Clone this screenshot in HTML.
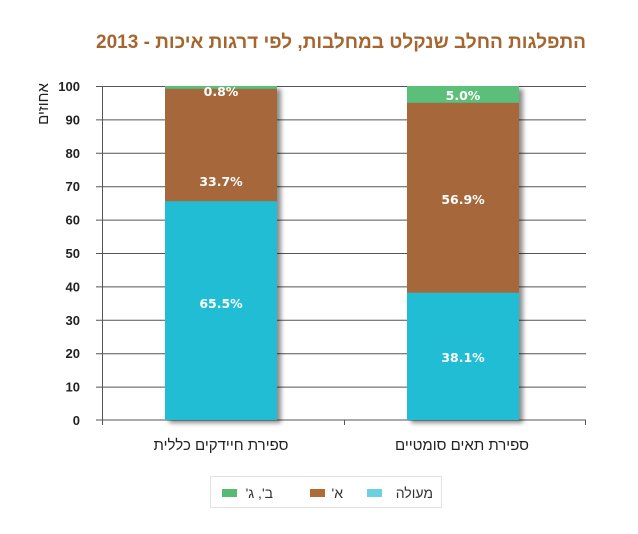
<!DOCTYPE html>
<html>
<head>
<meta charset="utf-8">
<style>
html,body{margin:0;padding:0;background:#fff;}
body{width:638px;height:534px;overflow:hidden;}
svg{display:block;}
</style>
</head>
<body>
<svg width="638" height="534" viewBox="0 0 638 534" xmlns="http://www.w3.org/2000/svg">
<defs>
<filter id="sh" x="-20%" y="-10%" width="140%" height="130%">
<feGaussianBlur in="SourceAlpha" stdDeviation="2.5"/>
<feOffset dx="4" dy="3" result="b"/>
<feComponentTransfer><feFuncA type="linear" slope="0.45"/></feComponentTransfer>
<feMerge><feMergeNode/><feMergeNode in="SourceGraphic"/></feMerge>
</filter>
</defs>
<text x="586" y="48" text-anchor="start" direction="rtl" textLength="490" lengthAdjust="spacingAndGlyphs" font-family="'Liberation Sans','DejaVu Sans',sans-serif" font-weight="bold" font-size="19" fill="#A5652F">התפלגות החלב שנקלט במחלבות, לפי דרגות איכות - 2013</text>

<text transform="translate(48,104) rotate(-90)" text-anchor="middle" font-family="'Liberation Sans','DejaVu Sans',sans-serif" font-size="15" fill="#222" direction="rtl">אחוזים</text>

<g stroke="#555" stroke-width="1">
<line x1="96" y1="86.5" x2="586" y2="86.5"/>
<line x1="96" y1="119.9" x2="586" y2="119.9"/>
<line x1="96" y1="153.3" x2="586" y2="153.3"/>
<line x1="96" y1="186.7" x2="586" y2="186.7"/>
<line x1="96" y1="220.1" x2="586" y2="220.1"/>
<line x1="96" y1="253.5" x2="586" y2="253.5"/>
<line x1="96" y1="286.9" x2="586" y2="286.9"/>
<line x1="96" y1="320.3" x2="586" y2="320.3"/>
<line x1="96" y1="353.7" x2="586" y2="353.7"/>
<line x1="96" y1="387.1" x2="586" y2="387.1"/>
<line x1="96" y1="420" x2="586" y2="420"/>
<line x1="102.5" y1="86" x2="102.5" y2="425"/>
<line x1="344.5" y1="420" x2="344.5" y2="425"/>
<line x1="585.5" y1="420" x2="585.5" y2="425"/>
</g>

<g font-family="'Liberation Sans','DejaVu Sans',sans-serif" font-weight="bold" font-size="13" fill="#222" text-anchor="end">
<text x="80" y="91">100</text>
<text x="80" y="124.4">90</text>
<text x="80" y="157.8">80</text>
<text x="80" y="191.2">70</text>
<text x="80" y="224.6">60</text>
<text x="80" y="258">50</text>
<text x="80" y="291.4">40</text>
<text x="80" y="324.8">30</text>
<text x="80" y="358.2">20</text>
<text x="80" y="391.6">10</text>
<text x="80" y="425">0</text>
</g>

<g filter="url(#sh)">
<rect x="165" y="86" width="112" height="334" fill="#21BDD4"/>
</g>
<rect x="165" y="201.2" width="112" height="218.8" fill="#21BDD4"/>
<rect x="165" y="88.7" width="112" height="112.5" fill="#A6683A"/>
<rect x="165" y="86" width="112" height="2.7" fill="#5CBF79"/>

<g filter="url(#sh)">
<rect x="407" y="86" width="112" height="334" fill="#21BDD4"/>
</g>
<rect x="407" y="292.7" width="112" height="127.3" fill="#21BDD4"/>
<rect x="407" y="102.7" width="112" height="190" fill="#A6683A"/>
<rect x="407" y="86" width="112" height="16.7" fill="#5CBF79"/>

<g font-family="'DejaVu Sans','Liberation Sans',sans-serif" font-weight="bold" font-size="12.5" fill="#fff" text-anchor="middle">
<text x="221" y="96">0.8%</text>
<text x="221" y="186">33.7%</text>
<text x="221" y="308">65.5%</text>
<text x="463" y="100">5.0%</text>
<text x="463" y="204">56.9%</text>
<text x="463" y="362">38.1%</text>
</g>

<g font-family="'Liberation Sans','DejaVu Sans',sans-serif" font-size="15" fill="#222" text-anchor="middle" direction="rtl">
<text x="221" y="450">ספירת חיידקים כללית</text>
<text x="462" y="450">ספירת תאים סומטיים</text>
</g>

<rect x="210.5" y="476.5" width="231" height="31" fill="#fff" stroke="#e2e2e2" stroke-width="1"/>
<rect x="367" y="489" width="15" height="8" fill="#6DCFDF"/>
<rect x="310" y="489" width="15" height="8" fill="#B06A35"/>
<rect x="222" y="489" width="15" height="8" fill="#55BB73"/>
<g font-family="'Liberation Sans','DejaVu Sans',sans-serif" font-size="14" fill="#333" text-anchor="start" direction="rtl">
<text x="433" y="498">מעולה</text>
<text x="343" y="498">א'</text>
<text x="273" y="498">ב', ג'</text>
</g>
</svg>
</body>
</html>
